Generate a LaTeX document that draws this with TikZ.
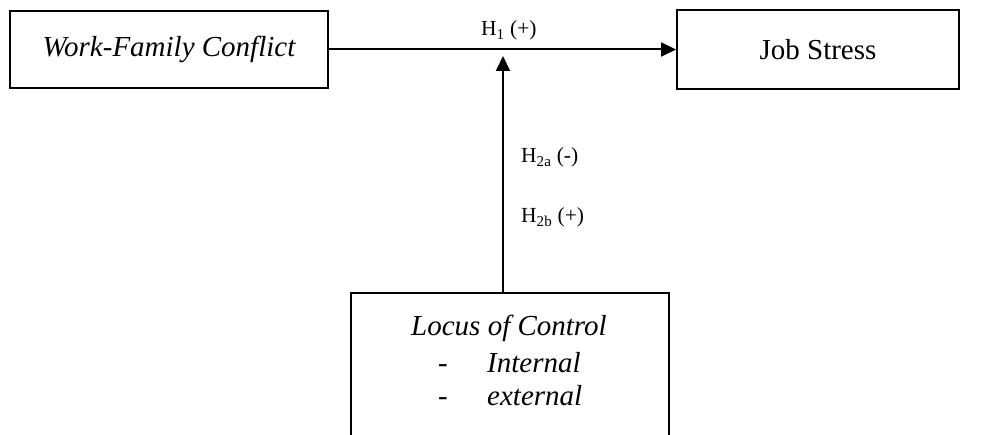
\documentclass[tikz,border=0pt]{standalone}
\usepackage{fontspec}
\setmainfont{Liberation Serif}
\usetikzlibrary{arrows.meta}
\begin{document}
\begin{tikzpicture}[x=1pt,y=-1pt,
  box/.style={draw, line width=2pt, inner sep=0pt, font=\fontsize{29}{33}\selectfont},
  arr/.style={-{Triangle[length=15pt,width=14pt]}, line width=2pt},
  lbl/.style={inner sep=0pt, font=\fontsize{21.5}{25}\selectfont},
  itx/.style={inner sep=0pt, anchor=base west, font=\fontsize{29}{33}\selectfont\itshape}]
\useasboundingbox (0,0) rectangle (1002,435);
\clip (0,0) rectangle (1002,435);
\node[box, minimum width=318pt, minimum height=77pt, anchor=north west] (wfc) at (9,10) {\itshape Work-Family Conflict};
\node[box, minimum width=282pt, minimum height=79pt, anchor=north west] (js) at (676,9) {Job Stress};
\node[box, minimum width=318pt, minimum height=180pt, anchor=north west] (loc) at (350,292) {};
\coordinate (tip) at (503,56);
\draw[arr] (wfc.east) -- (js.west);
\draw[arr] (loc.north -| tip) -- (tip);
\node[lbl, anchor=base west] (h1) at (481,36) {H\textsubscript{1} (+)};
\node[lbl, anchor=base west] (h2a) at (521,163) {H\textsubscript{2a} (-)};
\node[lbl, anchor=base west] (h2b) at (521,223) {H\textsubscript{2b} (+)};
\node[itx, anchor=base] (lc) at (509,336) {Locus of Control};
\node[itx, anchor=base] (d1) at (443,373) {-};
\node[itx] (int) at (487,373) {Internal};
\node[itx, anchor=base] (d2) at (443,406) {-};
\node[itx] (ext) at (487,406) {external};
\end{tikzpicture}
\end{document}
